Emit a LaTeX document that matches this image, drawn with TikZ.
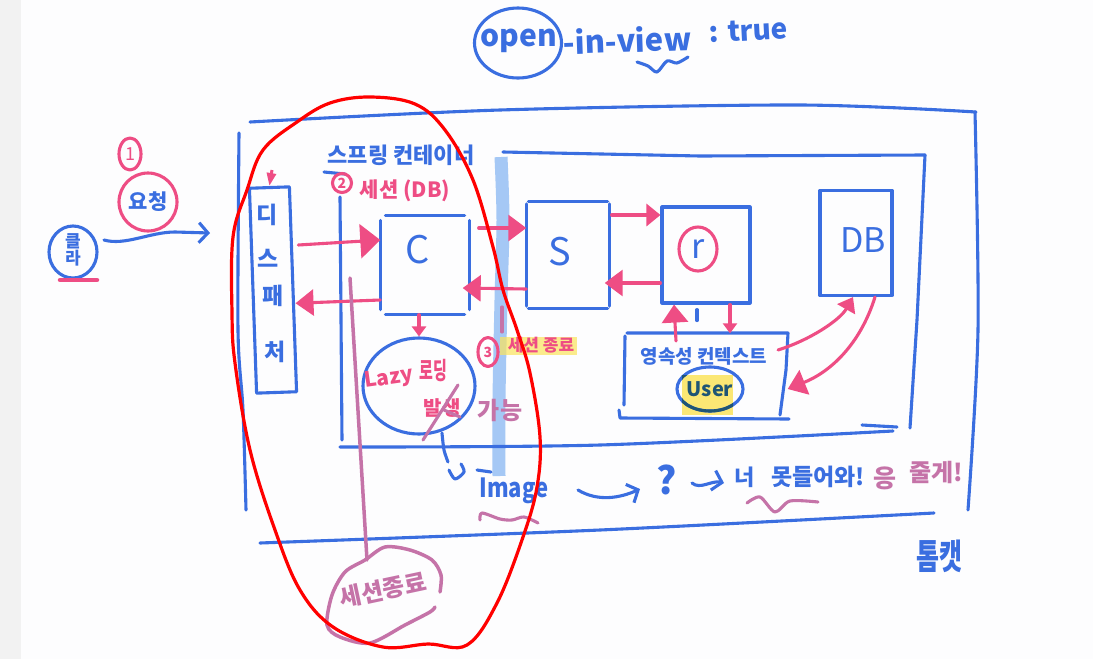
\documentclass[tikz,border=0pt]{standalone}
\usepackage{fontspec}
\setmainfont{Noto Sans CJK KR}
\usetikzlibrary{arrows.meta,shapes.geometric}
\definecolor{penblue}{HTML}{3A6EE0}
\definecolor{pendark}{HTML}{1F5575}
\definecolor{penpink}{HTML}{EE4D84}
\definecolor{penpurple}{HTML}{C573A8}
\definecolor{penred}{HTML}{FF0000}
\definecolor{penband}{HTML}{A5C8F5}
\definecolor{penyellow}{HTML}{FBE45C}
\definecolor{paper}{HTML}{FDFDFE}
\newcommand{\fs}[1]{\fontsize{#1}{#1}\selectfont}
\newcommand{\handbox}[2]{
  \draw[penblue,stroke,shorten <=#2,shorten >=#2] (#1.north west) -- (#1.north east);
  \draw[penblue,stroke,shorten <=#2,shorten >=#2] (#1.south west) -- (#1.south east);
  \draw[penblue,stroke,shorten <=#2,shorten >=#2] (#1.north west) -- (#1.south west);
  \draw[penblue,stroke,shorten <=#2,shorten >=#2] (#1.north east) -- (#1.south east);
}
\tikzset{
  stroke/.style={line width=3.1pt,line cap=round,line join=round},
  box/.style={draw=penblue,stroke,inner sep=0pt},
  plainbox/.style={inner sep=0pt},
  blue/.style={text=penblue,inner sep=0pt},
  pink/.style={text=penpink,inner sep=0pt},
  purple/.style={text=penpurple,inner sep=0pt},
  bighead/.style={draw=penpink,stroke,-{Triangle[length=18pt,width=26pt]}},
  smallhead/.style={draw=penpink,stroke,-{Triangle[length=10pt,width=14pt]}},
  barb/.style={draw=penblue,stroke,-{Straight Barb[length=9pt,width=20pt]}}
}
\begin{document}
\begin{tikzpicture}[x=1pt,y=-1pt]
\useasboundingbox (0,0) rectangle (1093,659);
\fill[paper] (0,0) rectangle (1093,659);
\fill[black!5] (0,0) rectangle (21,659);
\draw[penband,line width=13pt] plot[smooth] coordinates {(501,157) (503,220) (501,300) (499,400) (499,476)};
\fill[penyellow,opacity=.7] (500,337) rectangle (577,355);
\node[blue,font=\bfseries\fs{30}] (open) at (519,41) {open};
\node[draw=penblue,stroke,ellipse,minimum width=87pt,minimum height=70pt] (opencircle) at (518,43) {};
\node[blue,anchor=west,font=\bfseries\fs{31},rotate=2] (inview) at (563,42) {-in-view};
\node[blue,anchor=west,font=\bfseries\fs{28},rotate=3] (truetext) at (709,33) {: true};
\draw[penblue,stroke] plot[smooth] coordinates {(637,62) (648,66) (657,72) (667,61) (677,63) (688,57)};
\node[draw=penblue,stroke,ellipse,minimum width=48pt,minimum height=52pt] (client) at (73,252) {};
\node[blue,font=\bfseries\fs{17},align=center] (clienttext) at (73,250) {클\\라};
\draw[penpink,line width=4.5pt,line cap=round] (60,280) -- (97,280);
\node[draw=penpink,stroke,ellipse,minimum width=22pt,minimum height=32pt,pink,font=\fs{18}] (stepone) at (130,154) {1};
\node[draw=penpink,stroke,circle,minimum size=58pt,blue,font=\bfseries\fs{21}] (request) at (148,202) {요청};
\coordinate (tomcatin) at (210,233);
\draw[barb] (104,240) .. controls (125,246) and (150,232) .. (175,232) -- (tomcatin);
\draw[penblue,stroke] plot[smooth] coordinates {(250,122) (500,110) (800,105) (976,112)};
\draw[penblue,stroke] plot[smooth] coordinates {(975,112) (978,330) (968,510)};
\draw[penblue,stroke] plot[smooth] coordinates {(239,133) (238,330) (243,410) (246,510)};
\draw[penblue,stroke] plot[smooth] coordinates {(260,543) (600,530) (934,513)};
\node[blue,font=\bfseries\fs{25},yscale=1.4] (tomcat) at (939,556) {톰캣};
\node[blue,font=\bfseries\fs{22}] (spring) at (401,155) {스프링 컨테이너};
\draw[penblue,stroke] (324,172) -- (345,174);
\draw[penblue,stroke] (503,152) -- (700,156) -- (925,155);
\draw[penblue,stroke] (925,155) -- (917,320) -- (910,428);
\draw[penblue,stroke] (340,197) -- (342,440);
\draw[penblue,stroke] plot[smooth] coordinates {(340,447) (600,445) (893,431)};
\draw[penblue,stroke] (862,425) -- (897,427);
\node[draw=penpink,stroke,circle,minimum size=19pt,pink,font=\bfseries\fs{14}] (steptwo) at (342,183) {2};
\node[pink,font=\bfseries\fs{21}] (session) at (405,191) {세션 (DB)};
\node[box,rotate=2,minimum width=40pt,minimum height=205pt] (disp) at (273,290) {};
\node[blue,font=\bfseries\fs{23}] (dispa) at (267,215) {디};
\node[blue,font=\bfseries\fs{23}] (dispb) at (268,258) {스};
\node[blue,font=\bfseries\fs{23}] (dispc) at (273,296) {패};
\node[blue,font=\bfseries\fs{23}] (dispd) at (275,352) {처};
\node[plainbox,minimum width=89pt,minimum height=99pt] (ctrl) at (425,265) {};
\handbox{ctrl}{5pt}
\node[blue,font=\fs{38}] (ctrltext) at (418,250) {C};
\node[plainbox,minimum width=83pt,minimum height=106pt] (svc) at (568,255) {};
\handbox{svc}{2pt}
\node[blue,font=\fs{38}] (svctext) at (560,252) {S};
\node[box,minimum width=88pt,minimum height=96pt] (repo) at (706,255) {};
\node[draw=penpink,stroke,ellipse,minimum width=38pt,minimum height=44pt,blue,font=\fs{34}] (repotext) at (698,249) {r};
\node[box,minimum width=72pt,minimum height=105pt] (db) at (856,243) {};
\node[blue,font=\fs{34}] (dbtext) at (863,240) {DB};
\node[plainbox,minimum width=163pt,minimum height=85pt] (pctx) at (706,376) {};
\draw[penblue,stroke] (627,333) -- (788,333) -- (786,370) -- (780,415);
\draw[penblue,stroke] (625,336) -- (624,405);
\draw[penblue,stroke] (619,410) -- (620,418) -- (789,419);
\node[blue,font=\bfseries\fs{19}] (pctxtext) at (704,356) {영속성 컨텍스트};
\fill[penyellow,opacity=.85] (682,375) rectangle (733,415);
\node[draw=penblue,stroke,ellipse,minimum width=66pt,minimum height=44pt,text=pendark,inner sep=0pt,font=\bfseries\fs{20}] (user) at (710,389) {User};
\begin{scope}
\clip (682,375) rectangle (733,415);
\draw[pendark,stroke] (user.center) ellipse[x radius=33,y radius=22];
\end{scope}
\node[draw=penblue,stroke,ellipse,minimum width=112pt,minimum height=96pt] (lazy) at (419,386) {};
\node[pink,font=\bfseries\fs{21},rotate=8] (lazytext) at (389,379) {Lazy};
\node[pink,font=\bfseries\fs{15},yscale=1.6] (lazyload) at (433,371) {로딩};
\node[pink,font=\bfseries\fs{20}] (lazyevent) at (442,408) {발생};
\draw[penpurple,stroke] (423,440) -- (458,385);
\draw[penpurple,stroke] (444,410) -- (460,417);
\node[purple,font=\bfseries\fs{24}] (can) at (500,410) {가능};
\node[draw=penpink,stroke,ellipse,minimum width=20pt,minimum height=29pt,pink,font=\bfseries\fs{14}] (stepthree) at (488,352) {3};
\node[pink,font=\bfseries\fs{17}] (sessionend) at (541,345) {세션 종료};
\draw[penblue,stroke] (477,470) -- (491,472);
\node[blue,font=\bfseries\fs{22},yscale=1.2] (image) at (514,491) {Image};
\draw[penpurple,stroke] plot[smooth] coordinates {(480,520) (482,513) (500,519) (512,520) (524,517) (538,523)};
\node[blue,font=\bfseries\fs{38}] (question) at (667,480) {?};
\draw[barb] (578,490) .. controls (598,502) and (620,498) .. (640,489);
\coordinate (hopend) at (724,483);
\draw[barb] (692,483) .. controls (700,490) and (712,480) .. (hopend);
\node[blue,font=\bfseries\fs{22}] (you) at (745,477) {너};
\node[blue,font=\bfseries\fs{23}] (noenter) at (818,477) {못들어와!};
\node[purple,font=\bfseries\fs{25}] (yes) at (885,478) {응};
\node[purple,font=\bfseries\fs{24}] (give) at (936,472) {줄게!};
\draw[penpurple,stroke] plot[smooth] coordinates {(747,503) (760,497) (775,512) (790,501) (818,502)};
\draw[penpink,line width=3pt,-{Triangle[length=13pt,width=9pt]}] (272,170) -- (disp.north);
\draw[bighead,-{Triangle[length=20pt,width=34pt]}] ([xshift=-82pt,yshift=20pt]ctrl.west) -- ([yshift=25pt]ctrl.west);
\draw[bighead] ([yshift=-35pt]ctrl.west) -- ([xshift=1pt,yshift=-14pt]disp.east);
\draw[bighead] ([xshift=9pt,yshift=37pt]ctrl.east) -- ([yshift=27pt]svc.west);
\draw[bighead] ([yshift=-34pt]svc.west) -- ([xshift=-7pt,yshift=-23pt]ctrl.east);
\draw[smallhead,-{Triangle[length=14pt,width=22pt]}] ([xshift=2pt,yshift=40pt]svc.east) -- ([yshift=40pt]repo.west);
\draw[bighead] ([yshift=-28pt]repo.west) -- ([xshift=-5pt,yshift=-28pt]svc.east);
\draw[bighead] (676,341) -- ([xshift=-32pt]repo.south);
\draw[smallhead] ([xshift=24pt]repo.south) -- ([xshift=24pt]pctx.north);
\draw[penblue,stroke] ([xshift=-9pt,yshift=-5pt]repo.south) -- ([xshift=-9pt,yshift=-16pt]repo.south);
\draw[penpink,stroke,-{Triangle[length=14pt,width=20pt]}] (778,350) .. controls (810,340) and (840,320) .. ([xshift=-3pt]db.south);
\draw[bighead] ([xshift=19pt]db.south) .. controls (860,345) and (830,372) .. (pctx.east|-user.east);
\draw[smallhead] (ctrl.south-|lazy.north) -- (lazy.north);
\draw[penblue,stroke] plot[smooth] coordinates {(442,433) (444,450) (448,462)};
\draw[penblue,stroke] plot[smooth] coordinates {(449,470) (455,479) (464,472) (461,464)};
\draw[penpurple,stroke] (502,307) -- (502,332);
\coordinate (endline) at (350,278);
\coordinate (endblob) at (367,560);
\draw[penpurple,line width=3.5pt,line cap=round] (endline) -- (endblob);
\draw[penpurple,line width=3.5pt,line cap=round] plot[smooth] coordinates {(440,592) (441,575) (432,560) (410,550) (385,547) (365,560) (345,572) (332,595) (327,625) (340,637) (370,643) (405,625) (430,612) (435,607)};
\node[purple,font=\bfseries\fs{24},rotate=12] (endtext) at (383,590) {세션종료};
\draw[penred,line width=3.2pt] plot[smooth cycle,tension=.6] coordinates {(370,97) (330,103) (297,122) (263,150) (247,190) (233,237) (232,313) (235,363) (250,450) (275,530) (300,590) (333,627) (383,647) (428,644) (467,645) (497,603) (523,537) (537,487) (540,437) (530,373) (517,330) (503,290) (493,247) (473,180) (445,130) (415,104)};
\end{tikzpicture}
\end{document}
